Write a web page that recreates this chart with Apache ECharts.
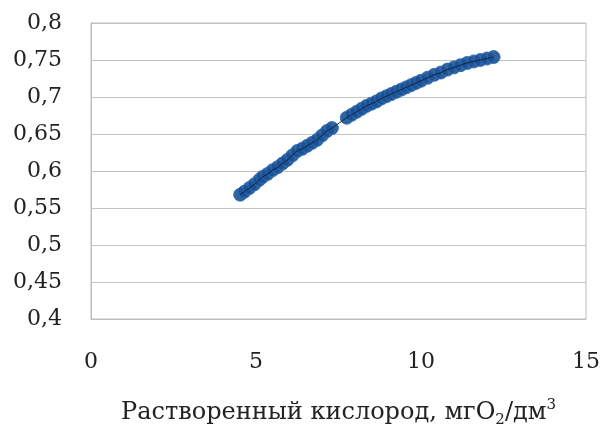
<!DOCTYPE html>
<html><head><meta charset="utf-8">
<script src="https://cdn.jsdelivr.net/npm/echarts@6/dist/echarts.min.js"></script>
<style>html,body{margin:0;padding:0;background:#fff}#c{width:601px;height:430px}</style>
</head><body><div id="c"></div>
<script>
var xValues = [4.52,4.65,4.8,4.95,5.1,5.2,5.35,5.5,5.65,5.8,5.95,6.1,6.25,6.4,6.55,6.7,6.85,7.0,7.15,7.3,7.75,7.9,8.05,8.2,8.35,8.5,8.65,8.8,8.95,9.1,9.25,9.4,9.55,9.7,9.85,10.0,10.2,10.4,10.6,10.8,11.0,11.2,11.4,11.6,11.8,12.0,12.2];
var yValues = [0.568,0.572,0.577,0.582,0.588,0.592,0.596,0.601,0.605,0.610,0.615,0.621,0.627,0.630,0.634,0.638,0.642,0.648,0.654,0.658,0.672,0.676,0.680,0.684,0.688,0.691,0.694,0.698,0.701,0.704,0.707,0.710,0.713,0.716,0.719,0.722,0.726,0.730,0.733,0.737,0.740,0.743,0.746,0.748,0.750,0.752,0.754];
var xTicks = [0,5,10,15];
var yTicks = [0.4,0.45,0.5,0.55,0.6,0.65,0.7,0.75,0.8];

var pts = xValues.map(function(x,i){return [x,yValues[i]];});
var font = '"DejaVu Serif",serif';
var chart = echarts.init(document.getElementById('c'));
chart.setOption({
  animation:false,
  backgroundColor:'#fff',
  grid:{left:91,top:23,right:15,bottom:111,show:true,borderColor:'#bdbdbd',borderWidth:1,
    containLabel:false,outerBoundsMode:'none'},
  xAxis:{type:'value',min:xTicks[0],max:xTicks[xTicks.length-1],interval:5,
    axisLine:{show:true,lineStyle:{color:'#bdbdbd'}},axisTick:{show:false},splitLine:{show:false},
    axisLabel:{margin:32,fontFamily:font,fontSize:22,color:'#222'},
    name:'{a|Растворенный кислород, мгO}{s|2}{a|/дм}{p|3}',nameLocation:'middle',nameGap:79,
    nameTextStyle:{rich:{
      a:{fontFamily:font,fontSize:24,color:'#222',lineHeight:30,verticalAlign:'middle'},
      s:{fontFamily:font,fontSize:15,color:'#222',lineHeight:15,verticalAlign:'bottom'},
      p:{fontFamily:font,fontSize:15,color:'#222',lineHeight:15,verticalAlign:'top'}}}},
  yAxis:{type:'value',min:yTicks[0],max:yTicks[yTicks.length-1],interval:0.05,
    axisLine:{show:true,lineStyle:{color:'#bdbdbd'}},axisTick:{show:false},
    splitLine:{show:true,lineStyle:{color:'#c4c4c4',width:1}},
    axisLabel:{margin:29,fontFamily:font,fontSize:22,color:'#222',
      formatter:function(v){return String(+v.toFixed(2)).replace('.',',');}}},
  series:[
    {type:'scatter',data:pts,symbolSize:13,
      itemStyle:{color:'#1b5194',opacity:0.9,borderColor:'#2f6db2',borderWidth:1},z:2},
    {type:'line',data:pts,symbol:'none',smooth:true,lineStyle:{color:'#0d2340',width:1},z:3}
  ]
});
</script></body></html>
